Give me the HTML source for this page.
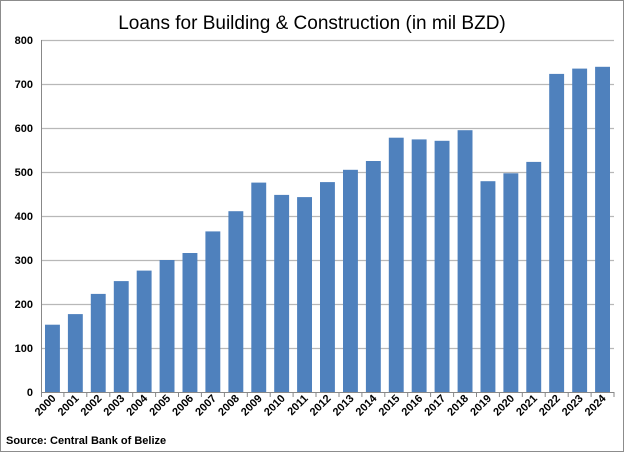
<!DOCTYPE html>
<html><head><style>body{margin:0;background:#fff}svg{display:block}</style></head><body>
<svg width="624" height="452" xmlns="http://www.w3.org/2000/svg" font-family="Liberation Sans, sans-serif">
<rect x="0.5" y="0.5" width="623" height="451" fill="#fff" stroke="#8c8c8c"/>
<text x="312" y="29" text-anchor="middle" font-size="19">Loans for Building &amp; Construction (in mil BZD)</text>
<g stroke="#b8b8b8" stroke-width="1.3">
<line x1="41" x2="614" y1="40.5" y2="40.5"/><line x1="41" x2="614" y1="84.5" y2="84.5"/><line x1="41" x2="614" y1="128.5" y2="128.5"/><line x1="41" x2="614" y1="172.5" y2="172.5"/><line x1="41" x2="614" y1="216.5" y2="216.5"/><line x1="41" x2="614" y1="260.5" y2="260.5"/><line x1="41" x2="614" y1="304.5" y2="304.5"/><line x1="41" x2="614" y1="348.5" y2="348.5"/>
</g>
<g font-size="11" font-weight="bold" text-anchor="end">
<text x="33" y="44">800</text><text x="33" y="88">700</text><text x="33" y="132">600</text><text x="33" y="176">500</text><text x="33" y="220">400</text><text x="33" y="264">300</text><text x="33" y="308">200</text><text x="33" y="352">100</text><text x="33" y="396">0</text>
</g>
<g fill="#4f81bd">
<rect x="45.0" width="14.9" y="324.7" height="67.3"/>
<rect x="67.9" width="14.9" y="314.1" height="77.9"/>
<rect x="90.8" width="14.9" y="293.9" height="98.1"/>
<rect x="113.8" width="14.9" y="281.1" height="110.9"/>
<rect x="136.7" width="14.9" y="270.6" height="121.4"/>
<rect x="159.6" width="14.9" y="260" height="132"/>
<rect x="182.5" width="14.9" y="253" height="139"/>
<rect x="205.4" width="14.9" y="231.4" height="160.6"/>
<rect x="228.4" width="14.9" y="211.2" height="180.8"/>
<rect x="251.3" width="14.9" y="182.6" height="209.4"/>
<rect x="274.2" width="14.9" y="194.9" height="197.1"/>
<rect x="297.1" width="14.9" y="197.1" height="194.9"/>
<rect x="320.0" width="14.9" y="182.1" height="209.9"/>
<rect x="343.0" width="14.9" y="169.8" height="222.2"/>
<rect x="365.9" width="14.9" y="161" height="231"/>
<rect x="388.8" width="14.9" y="137.7" height="254.3"/>
<rect x="411.7" width="14.9" y="139.4" height="252.6"/>
<rect x="434.6" width="14.9" y="140.8" height="251.2"/>
<rect x="457.6" width="14.9" y="130.2" height="261.8"/>
<rect x="480.5" width="14.9" y="181.2" height="210.8"/>
<rect x="503.4" width="14.9" y="173.3" height="218.7"/>
<rect x="526.3" width="14.9" y="161.9" height="230.1"/>
<rect x="549.2" width="14.9" y="73.9" height="318.1"/>
<rect x="572.2" width="14.9" y="68.6" height="323.4"/>
<rect x="595.1" width="14.9" y="66.8" height="325.2"/>
</g>
<g stroke="#888">
<line x1="41.5" x2="41.5" y1="40" y2="397"/>
<line x1="41" x2="614" y1="392.5" y2="392.5"/>
<line x1="63.9" x2="63.9" y1="392" y2="397"/><line x1="86.8" x2="86.8" y1="392" y2="397"/><line x1="109.8" x2="109.8" y1="392" y2="397"/><line x1="132.7" x2="132.7" y1="392" y2="397"/><line x1="155.6" x2="155.6" y1="392" y2="397"/><line x1="178.5" x2="178.5" y1="392" y2="397"/><line x1="201.4" x2="201.4" y1="392" y2="397"/><line x1="224.4" x2="224.4" y1="392" y2="397"/><line x1="247.3" x2="247.3" y1="392" y2="397"/><line x1="270.2" x2="270.2" y1="392" y2="397"/><line x1="293.1" x2="293.1" y1="392" y2="397"/><line x1="316.0" x2="316.0" y1="392" y2="397"/><line x1="339.0" x2="339.0" y1="392" y2="397"/><line x1="361.9" x2="361.9" y1="392" y2="397"/><line x1="384.8" x2="384.8" y1="392" y2="397"/><line x1="407.7" x2="407.7" y1="392" y2="397"/><line x1="430.6" x2="430.6" y1="392" y2="397"/><line x1="453.6" x2="453.6" y1="392" y2="397"/><line x1="476.5" x2="476.5" y1="392" y2="397"/><line x1="499.4" x2="499.4" y1="392" y2="397"/><line x1="522.3" x2="522.3" y1="392" y2="397"/><line x1="545.2" x2="545.2" y1="392" y2="397"/><line x1="568.2" x2="568.2" y1="392" y2="397"/><line x1="591.1" x2="591.1" y1="392" y2="397"/><line x1="614" x2="614" y1="392" y2="397"/>
</g>
<g font-size="11" font-weight="bold" text-anchor="end">
<text transform="translate(56.5,399) rotate(-45)">2000</text>
<text transform="translate(79.4,399) rotate(-45)">2001</text>
<text transform="translate(102.3,399) rotate(-45)">2002</text>
<text transform="translate(125.2,399) rotate(-45)">2003</text>
<text transform="translate(148.1,399) rotate(-45)">2004</text>
<text transform="translate(171.1,399) rotate(-45)">2005</text>
<text transform="translate(194.0,399) rotate(-45)">2006</text>
<text transform="translate(216.9,399) rotate(-45)">2007</text>
<text transform="translate(239.8,399) rotate(-45)">2008</text>
<text transform="translate(262.7,399) rotate(-45)">2009</text>
<text transform="translate(285.7,399) rotate(-45)">2010</text>
<text transform="translate(308.6,399) rotate(-45)">2011</text>
<text transform="translate(331.5,399) rotate(-45)">2012</text>
<text transform="translate(354.4,399) rotate(-45)">2013</text>
<text transform="translate(377.3,399) rotate(-45)">2014</text>
<text transform="translate(400.3,399) rotate(-45)">2015</text>
<text transform="translate(423.2,399) rotate(-45)">2016</text>
<text transform="translate(446.1,399) rotate(-45)">2017</text>
<text transform="translate(469.0,399) rotate(-45)">2018</text>
<text transform="translate(491.9,399) rotate(-45)">2019</text>
<text transform="translate(514.9,399) rotate(-45)">2020</text>
<text transform="translate(537.8,399) rotate(-45)">2021</text>
<text transform="translate(560.7,399) rotate(-45)">2022</text>
<text transform="translate(583.6,399) rotate(-45)">2023</text>
<text transform="translate(606.5,399) rotate(-45)">2024</text>
</g>
<text x="6" y="444" font-size="11" font-weight="bold">Source: Central Bank of Belize</text>
</svg>
</body></html>
